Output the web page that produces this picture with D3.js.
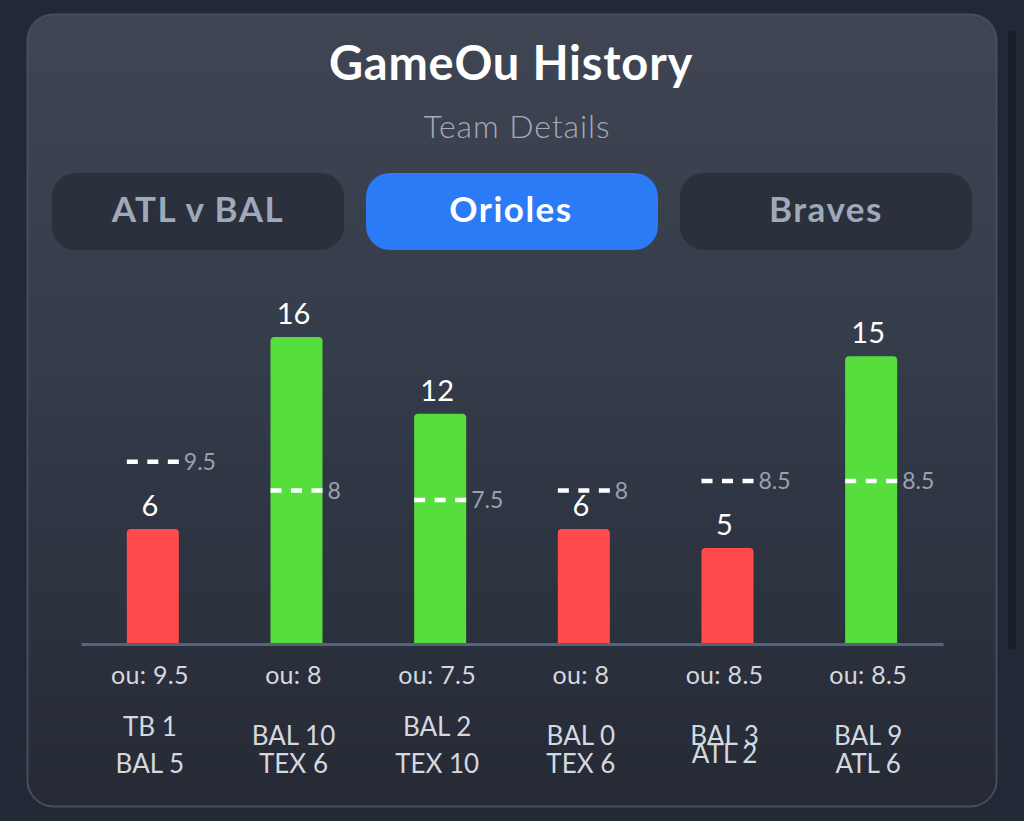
<!DOCTYPE html>
<html>
<head>
<meta charset="utf-8">
<script src="https://cdn.jsdelivr.net/npm/d3@7"></script>
<style>
html, body { margin: 0; padding: 0; background: #232836; }
svg { display: block; }
text { font-family: Lato, "Open Sans", sans-serif; }
</style>
</head>
<body>
<div id="visuals"></div>
<script>
const tabs = ['ATL v BAL', 'Orioles', 'Braves'];
const totals = [6, 16, 12, 6, 5, 15];
const overUnders = [9.5, 8, 7.5, 8, 8.5, 8.5];
const scoreTop = ['TB 1', 'BAL 10', 'BAL 2', 'BAL 0', 'BAL 3', 'BAL 9'];
const scoreBottom = ['BAL 5', 'TEX 6', 'TEX 10', 'TEX 6', 'ATL 2', 'ATL 6'];

const width = 1024;
const height = 821;
const baseline = 644;
const barWidth = 52;
// the two score lines do not sit at the same distance in every column
const bottomLineY = [773, 773, 773, 773, 763, 773];
const topLineY = [736, 745, 736, 745, 745, 745];

const svg = d3.select('#visuals')
    .append('svg')
    .attr('width', width)
    .attr('height', height);

const defs = svg.append('defs');
const cardFill = defs.append('linearGradient')
    .attr('id', 'cardFill')
    .attr('x1', 0).attr('x2', 0).attr('y1', 0).attr('y2', 1);
cardFill.append('stop').attr('offset', '0%').attr('stop-color', '#3f4553');
cardFill.append('stop').attr('offset', '45%').attr('stop-color', '#343b49');
cardFill.append('stop').attr('offset', '100%').attr('stop-color', '#252a35');

// page, scrollbar, card
svg.append('rect')
    .attr('width', width)
    .attr('height', height)
    .attr('fill', '#232836');
svg.append('rect')
    .attr('x', 1008).attr('y', 30)
    .attr('width', 8).attr('height', 620)
    .attr('rx', 4)
    .attr('fill', '#1b1f2b');
svg.append('rect')
    .attr('x', 27.5).attr('y', 14.5)
    .attr('width', 969).attr('height', 792)
    .attr('rx', 26)
    .attr('fill', 'url(#cardFill)')
    .attr('stroke', '#474d5c')
    .attr('stroke-width', 2);

svg.append('text')
    .attr('x', 511).attr('y', 80)
    .attr('text-anchor', 'middle')
    .attr('font-size', 47)
    .attr('font-weight', 700)
    .attr('letter-spacing', 0.8)
    .attr('fill', '#ffffff')
    .text('GameOu History');
svg.append('text')
    .attr('x', 517).attr('y', 138)
    .attr('text-anchor', 'middle')
    .attr('font-size', 32)
    .attr('font-weight', 300)
    .attr('letter-spacing', 0.9)
    .attr('fill', '#a3abba')
    .text('Team Details');

// tab buttons
const tabX = d3.scalePoint()
    .domain(tabs)
    .range([52, 680]);
const tab = svg.selectAll('g.tab')
    .data(tabs)
    .enter()
    .append('g')
    .attr('class', 'tab')
    .attr('transform', (d) => `translate(${tabX(d)},173)`);
tab.append('rect')
    .attr('width', 292)
    .attr('height', 77)
    .attr('rx', 24)
    .attr('fill', (d) => (d === 'Orioles' ? '#2b7bf6' : '#2a303c'));
tab.append('text')
    .attr('x', (d) => (d === 'Orioles' ? 145 : 146))
    .attr('y', 49)
    .attr('text-anchor', 'middle')
    .attr('font-size', 35)
    .attr('font-weight', 700)
    .attr('letter-spacing', 1.5)
    .attr('fill', (d) => (d === 'Orioles' ? '#ffffff' : '#a0a9b9'))
    .text((d) => d);

// chart
const x = d3.scaleBand()
    .domain(d3.range(totals.length))
    .range([81, 943]);
const y = d3.scaleLinear()
    .domain([0, 16])
    .range([baseline, 337]);
const barLeft = (i) => x(i) + x.bandwidth() / 2 - barWidth / 2;

const games = totals.map((total, i) => ({ i, total, ou: overUnders[i] }));

// flat at the base, slightly rounded on top
svg.selectAll('path.bar')
    .data(games)
    .enter()
    .append('path')
    .attr('class', 'bar')
    .attr('fill', (d) => (d.total > d.ou ? '#55de3c' : '#ff4b4b'))
    .attr('d', (d) => {
        const p = d3.path();
        const l = barLeft(d.i);
        const t = y(d.total);
        const r = 4;
        p.moveTo(l, baseline);
        p.lineTo(l, t + r);
        p.quadraticCurveTo(l, t, l + r, t);
        p.lineTo(l + barWidth - r, t);
        p.quadraticCurveTo(l + barWidth, t, l + barWidth, t + r);
        p.lineTo(l + barWidth, baseline);
        p.closePath();
        return p.toString();
    });

svg.selectAll('text.total')
    .data(games)
    .enter()
    .append('text')
    .attr('class', 'total')
    .attr('x', (d) => barLeft(d.i) + barWidth / 2 - 3)
    .attr('y', (d) => y(d.total) - 13)
    .attr('text-anchor', 'middle')
    .attr('font-size', 29)
    .attr('fill', '#ffffff')
    .text((d) => d.total);

svg.selectAll('line.ou')
    .data(games)
    .enter()
    .append('line')
    .attr('class', 'ou')
    .attr('x1', (d) => barLeft(d.i))
    .attr('x2', (d) => barLeft(d.i) + barWidth)
    .attr('y1', (d) => y(d.ou))
    .attr('y2', (d) => y(d.ou))
    .attr('stroke', '#ffffff')
    .attr('stroke-width', 4.5)
    .attr('stroke-dasharray', '11 9.5');

svg.selectAll('text.ouValue')
    .data(games)
    .enter()
    .append('text')
    .attr('class', 'ouValue')
    .attr('x', (d) => barLeft(d.i) + barWidth + 5)
    .attr('y', (d) => y(d.ou) + 8)
    .attr('font-size', 23)
    .attr('fill', '#98a1b1')
    .text((d) => d.ou);

const axis = svg.append('g')
    .attr('transform', `translate(0,${baseline})`)
    .call(d3.axisBottom(x)
        .tickSize(0)
        .tickPadding(22)
        .tickFormat((i) => `ou: ${overUnders[i]}`));
axis.select('.domain')
    .attr('stroke', '#59627c')
    .attr('stroke-width', 3);
axis.selectAll('text')
    .attr('dx', -3)
    .attr('font-size', 25)
    .attr('font-family', 'Lato')
    .attr('letter-spacing', 0.3)
    .attr('fill', '#d5d8df');

svg.selectAll('text.scoreTop')
    .data(scoreTop)
    .enter()
    .append('text')
    .attr('class', 'scoreTop')
    .attr('x', (d, i) => barLeft(i) + barWidth / 2 - 3)
    .attr('y', (d, i) => topLineY[i])
    .attr('text-anchor', 'middle')
    .attr('font-size', 26)
    .attr('fill', '#d5d8df')
    .text((d) => d);

svg.selectAll('text.scoreBottom')
    .data(scoreBottom)
    .enter()
    .append('text')
    .attr('class', 'scoreBottom')
    .attr('x', (d, i) => barLeft(i) + barWidth / 2 - 3)
    .attr('y', (d, i) => bottomLineY[i])
    .attr('text-anchor', 'middle')
    .attr('font-size', 26)
    .attr('fill', '#d5d8df')
    .text((d) => d);
</script>
</body>
</html>
